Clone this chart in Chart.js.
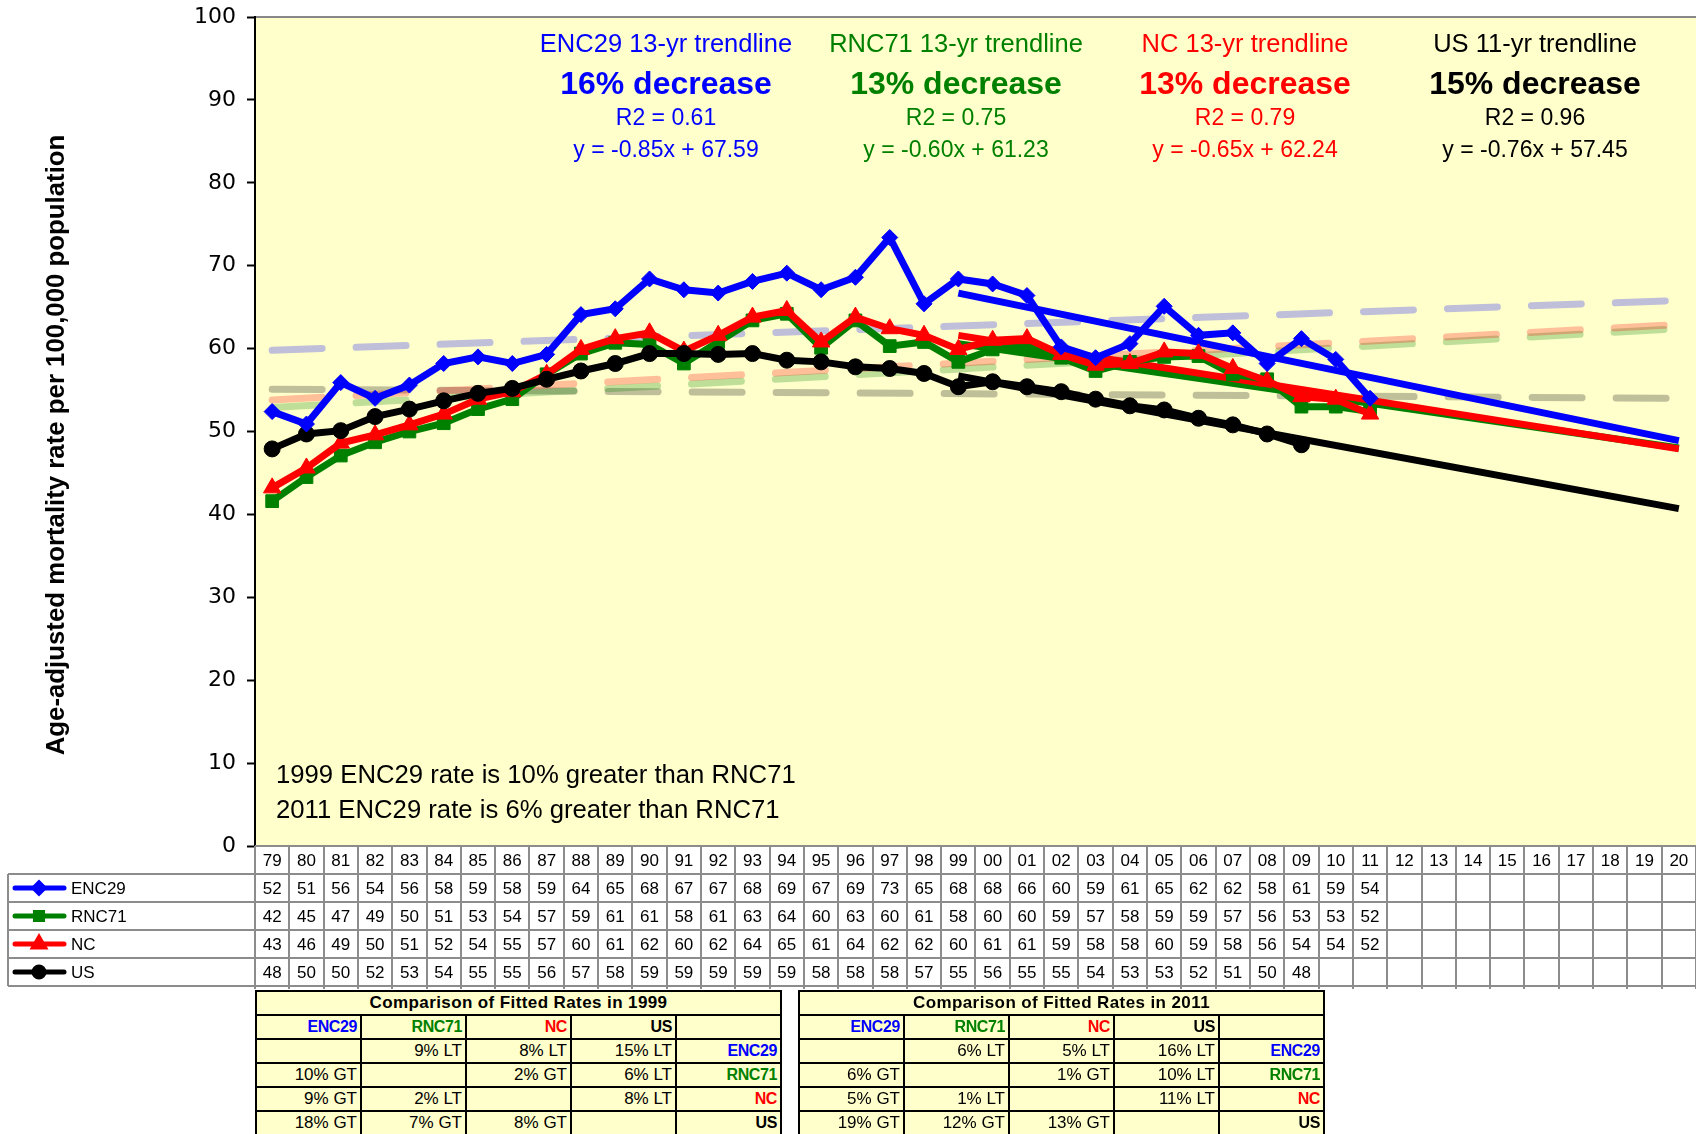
<!DOCTYPE html>
<html>
<head>
<meta charset="utf-8">
<script src="https://cdn.jsdelivr.net/npm/chart.js@4"></script>
<style>
  html, body { margin: 0; padding: 0; background: #fff; overflow: hidden; }
  #wrap { position: relative; width: 1696px; height: 1134px; }
  canvas { position: absolute; left: 0; top: 0; }
  table.cmp { position: absolute; top: 990px; width: 527px; table-layout: fixed; border-collapse: collapse; background: #FFFFCC; font: 17px "Liberation Sans", Arial, sans-serif; color: #000; }
  table.cmp td { border: 2px solid #000; padding: 0 3px; height: 22px; line-height: 22px; text-align: right; white-space: nowrap; overflow: hidden; }
  table.cmp td.title { text-align: center; font-weight: bold; font-size: 17px; letter-spacing: 0.4px; }
  table.cmp td.name { font-weight: bold; font-size: 16px; letter-spacing: -0.4px; }
</style>
</head>
<body>
<div id="wrap">
  <canvas id="chart1" width="1696" height="1134"></canvas>
</div>
<script>
const years = ["79", "80", "81", "82", "83", "84", "85", "86", "87", "88", "89", "90", "91", "92", "93", "94", "95", "96", "97", "98",
    "99", "00", "01", "02", "03", "04", "05", "06", "07", "08", "09", "10", "11", "12", "13", "14", "15", "16", "17", "18", "19", "20"];

const names = ["ENC29", "RNC71", "NC", "US"];
const colors = ["#0000FF", "#008000", "#FF0000", "#000000"];
const fades = ["rgba(0,0,255,0.25)", "rgba(0,128,0,0.25)", "rgba(255,0,0,0.25)", "rgba(0,0,0,0.25)"];
const markers = ["rectRot", "rect", "triangle", "circle"];

const enc29 = [52.4, 50.9, 55.9, 54.0, 55.6, 58.2, 59.0, 58.2, 59.3, 64.1, 64.8, 68.4, 67.1, 66.7, 68.1, 69.1, 67.1, 68.6, 73.4, 65.4,
    68.4, 67.8, 66.4, 60.2, 58.9, 60.6, 65.1, 61.6, 61.9, 58.2, 61.2, 58.7, 54.0];
const rnc71 = [41.6, 44.5, 47.1, 48.7, 50.0, 51.0, 52.7, 53.9, 56.9, 59.4, 60.7, 60.5, 58.2, 60.8, 63.4, 64.2, 60.1, 63.4, 60.3, 60.8,
    58.4, 59.9, 60.2, 58.9, 57.3, 58.4, 59.0, 59.1, 56.9, 56.3, 53.0, 53.0, 52.4];
const nc = [43.2, 45.6, 48.6, 49.6, 50.8, 52.1, 53.9, 54.8, 56.9, 59.9, 61.2, 61.9, 59.7, 61.6, 63.8, 64.6, 60.8, 63.8, 62.4, 61.6,
    59.9, 61.0, 61.2, 59.3, 58.0, 58.2, 59.6, 59.4, 57.6, 56.1, 54.2, 53.9, 52.1];
const us = [47.9, 49.7, 50.1, 51.8, 52.7, 53.7, 54.6, 55.2, 56.3, 57.3, 58.2, 59.4, 59.4, 59.3, 59.4, 58.6, 58.4, 57.8, 57.6, 57.0,
    55.4, 56.0, 55.4, 54.8, 53.9, 53.1, 52.6, 51.6, 50.8, 49.7, 48.4];

// 13-yr / 11-yr trendlines, 99 to 20
const trendStart = [66.7, 60.6, 61.6, 56.7];
const trendEnd = [48.9, 48.0, 47.9, 40.7];
// faint full-period trendlines, 79 to 20
const longStart = [59.8, 52.9, 53.8, 55.1];
const longEnd = [65.8, 62.4, 62.9, 54.0];

const trendHeads = ["ENC29 13-yr trendline", "RNC71 13-yr trendline", "NC 13-yr trendline", "US 11-yr trendline"];
const decreases = ["16% decrease", "13% decrease", "13% decrease", "15% decrease"];
const r2s = ["R2 = 0.61", "R2 = 0.75", "R2 = 0.79", "R2 = 0.96"];
const eqs = ["y = -0.85x + 67.59", "y = -0.60x + 61.23", "y = -0.65x + 62.24", "y = -0.76x + 57.45"];
const notes = ["1999 ENC29 rate is 10% greater than RNC71", "2011 ENC29 rate is 6% greater than RNC71"];
const yTitle = "Age-adjusted mortality rate per 100,000 population";

const cmpTitles = ["Comparison of Fitted Rates in 1999", "Comparison of Fitted Rates in 2011"];
const cmp1999 = [["", "9% LT", "8% LT", "15% LT"], ["10% GT", "", "2% GT", "6% LT"], ["9% GT", "2% LT", "", "8% LT"], ["18% GT", "7% GT", "8% GT", ""]];
const cmp2011 = [["", "6% LT", "5% LT", "16% LT"], ["6% GT", "", "1% GT", "10% LT"], ["5% GT", "1% LT", "", "11% LT"], ["19% GT", "12% GT", "13% GT", ""]];

const FONT = "'Liberation Sans', Arial, sans-serif";
const series = [enc29, rnc71, nc, us];

function padTo(arr) {
    const out = years.map(() => null);
    arr.forEach((v, i) => out[i] = v);
    return out;
}

function twoPoints(iStart, a, b) {
    const out = years.map(() => null);
    out[iStart] = a;
    out[years.length - 1] = b;
    return out;
}

function makeDatasets() {
    const sets = [];
    // top-most first
    const dataOrder = [0, 3, 2, 1];
    dataOrder.forEach((k) => {
        sets.push({
            data: padTo(series[k]),
            borderColor: colors[k],
            backgroundColor: colors[k],
            borderWidth: 7,
            pointStyle: markers[k],
            pointRadius: k === 2 ? 10 : (k === 1 ? 9 : 8),
            pointBorderWidth: 1,
            tension: 0,
            spanGaps: false,
        });
    });
    [2, 1, 0, 3].forEach((k) => {
        sets.push({
            data: twoPoints(20, trendStart[k], trendEnd[k]),
            borderColor: colors[k],
            borderWidth: 7,
            pointRadius: 0,
            spanGaps: true,
        });
    });
    [0, 2, 1, 3].forEach((k) => {
        sets.push({
            data: twoPoints(0, longStart[k], longEnd[k]),
            borderColor: fades[k],
            borderWidth: 7,
            borderDash: [50, 34],
            borderCapStyle: "round",
            pointRadius: 0,
            spanGaps: true,
        });
    });
    return sets;
}

const background = {
    id: "background",
    beforeDraw(chart) {
        const { ctx, chartArea: a } = chart;
        ctx.save();
        ctx.fillStyle = "#fff";
        ctx.fillRect(0, 0, chart.width, chart.height);
        ctx.fillStyle = "#FFFFCC";
        ctx.fillRect(a.left, a.top, a.right - a.left, a.bottom - a.top);
        ctx.strokeStyle = "#888";
        ctx.lineWidth = 2;
        ctx.beginPath();
        ctx.moveTo(a.left, a.top);
        ctx.lineTo(a.right, a.top);
        ctx.stroke();
        ctx.restore();
    }
};

const extras = {
    id: "extras",
    afterDraw(chart) {
        const { ctx, chartArea: a } = chart;
        const x = chart.scales.x;
        const w = x.getPixelForValue(1) - x.getPixelForValue(0);
        ctx.save();

        // y axis title
        ctx.save();
        ctx.translate(57, 445);
        ctx.rotate(-Math.PI / 2);
        ctx.fillStyle = "#000";
        ctx.font = `bold 25.8px ${FONT}`;
        ctx.textAlign = "center";
        ctx.textBaseline = "middle";
        ctx.fillText(yTitle, 0, 0);
        ctx.restore();

        // trendline captions
        const cx = [666, 956, 1245, 1535];
        ctx.textAlign = "center";
        ctx.textBaseline = "middle";
        for (let k = 0; k < 4; k++) {
            ctx.fillStyle = colors[k];
            ctx.font = `25.5px ${FONT}`;
            ctx.fillText(trendHeads[k], cx[k], 45);
            ctx.font = `bold 32px ${FONT}`;
            ctx.fillText(decreases[k], cx[k], 85);
            ctx.font = `23px ${FONT}`;
            ctx.fillText(r2s[k], cx[k], 119);
            ctx.fillText(eqs[k], cx[k], 151);
        }

        // notes lower left
        ctx.fillStyle = "#000";
        ctx.font = `25.7px ${FONT}`;
        ctx.textAlign = "left";
        ctx.fillText(notes[0], 276, 776);
        ctx.fillText(notes[1], 276, 811);

        // data table
        const rows = [846, 874, 902, 930, 958, 986];
        const left = 8;
        const right = chart.width;
        ctx.strokeStyle = "#8c8c8c";
        ctx.lineWidth = 2;
        ctx.beginPath();
        ctx.moveTo(a.left, rows[0]);
        ctx.lineTo(right, rows[0]);
        for (let r = 1; r < rows.length; r++) {
            ctx.moveTo(left, rows[r]);
            ctx.lineTo(right, rows[r]);
        }
        ctx.moveTo(left, rows[1]);
        ctx.lineTo(left, rows[5]);
        for (let i = 0; i <= years.length; i++) {
            const bx = Math.round(x.getPixelForValue(0) - w / 2 + i * w);
            ctx.moveTo(bx, rows[0]);
            ctx.lineTo(bx, rows[5] + 3);
        }
        ctx.stroke();

        ctx.fillStyle = "#000";
        ctx.font = `17px ${FONT}`;
        ctx.textAlign = "center";
        ctx.textBaseline = "middle";
        years.forEach((y, i) => {
            ctx.fillText(y, x.getPixelForValue(i), (rows[0] + rows[1]) / 2 + 1);
        });
        series.forEach((s, k) => {
            const cy = (rows[k + 1] + rows[k + 2]) / 2 + 1;
            s.forEach((v, i) => {
                ctx.fillText(String(Math.round(v)), x.getPixelForValue(i), cy);
            });
        });

        // legend keys
        ctx.textAlign = "left";
        for (let k = 0; k < 4; k++) {
            const cy = (rows[k + 1] + rows[k + 2]) / 2;
            ctx.strokeStyle = colors[k];
            ctx.fillStyle = colors[k];
            ctx.lineWidth = 5;
            ctx.lineCap = "round";
            ctx.beginPath();
            ctx.moveTo(15, cy);
            ctx.lineTo(64, cy);
            ctx.stroke();
            Chart.helpers.drawPoint(ctx, { pointStyle: markers[k], radius: k === 2 ? 6 : 5, borderWidth: 1, rotation: 0 }, 39, cy);
            ctx.fillStyle = "#000";
            ctx.font = `17px ${FONT}`;
            ctx.fillText(names[k], 71, cy + 1);
        }
        ctx.restore();
    }
};

new Chart(document.getElementById("chart1"), {
    type: "line",
    data: { labels: years, datasets: makeDatasets() },
    options: {
        responsive: false,
        animation: false,
        devicePixelRatio: 1,
        layout: { autoPadding: false, padding: { top: 17, bottom: 288, left: 0, right: 0 } },
        scales: {
            x: { display: false, offset: true },
            y: {
                min: 0,
                max: 100,
                afterFit: (s) => { s.width = 255; },
                ticks: { stepSize: 10, color: "#000", padding: 11, font: { family: "'DejaVu Sans'", size: 22, lineHeight: 0.4 } },
                grid: { drawOnChartArea: false, drawTicks: true, tickLength: 8, color: "#000", tickWidth: 2 },
                border: { color: "#000", width: 2 },
            },
        },
        plugins: { legend: { display: false }, tooltip: { enabled: false } },
    },
    plugins: [background, extras],
});

function makeTable(left, title, rows) {
    const t = document.createElement("table");
    t.className = "cmp";
    t.style.left = left + "px";
    let html = `<tr><td class="title" colspan="5">${title}</td></tr><tr>`;
    names.forEach((n, k) => html += `<td class="name" style="color:${colors[k]}">${n}</td>`);
    html += "<td></td></tr>";
    rows.forEach((r, k) => {
        html += "<tr>";
        r.forEach((c) => html += `<td>${c}</td>`);
        html += `<td class="name" style="color:${colors[k]}">${names[k]}</td></tr>`;
    });
    t.innerHTML = html;
    document.getElementById("wrap").appendChild(t);
}

makeTable(255, cmpTitles[0], cmp1999);
makeTable(798, cmpTitles[1], cmp2011);
</script>
</body>
</html>
